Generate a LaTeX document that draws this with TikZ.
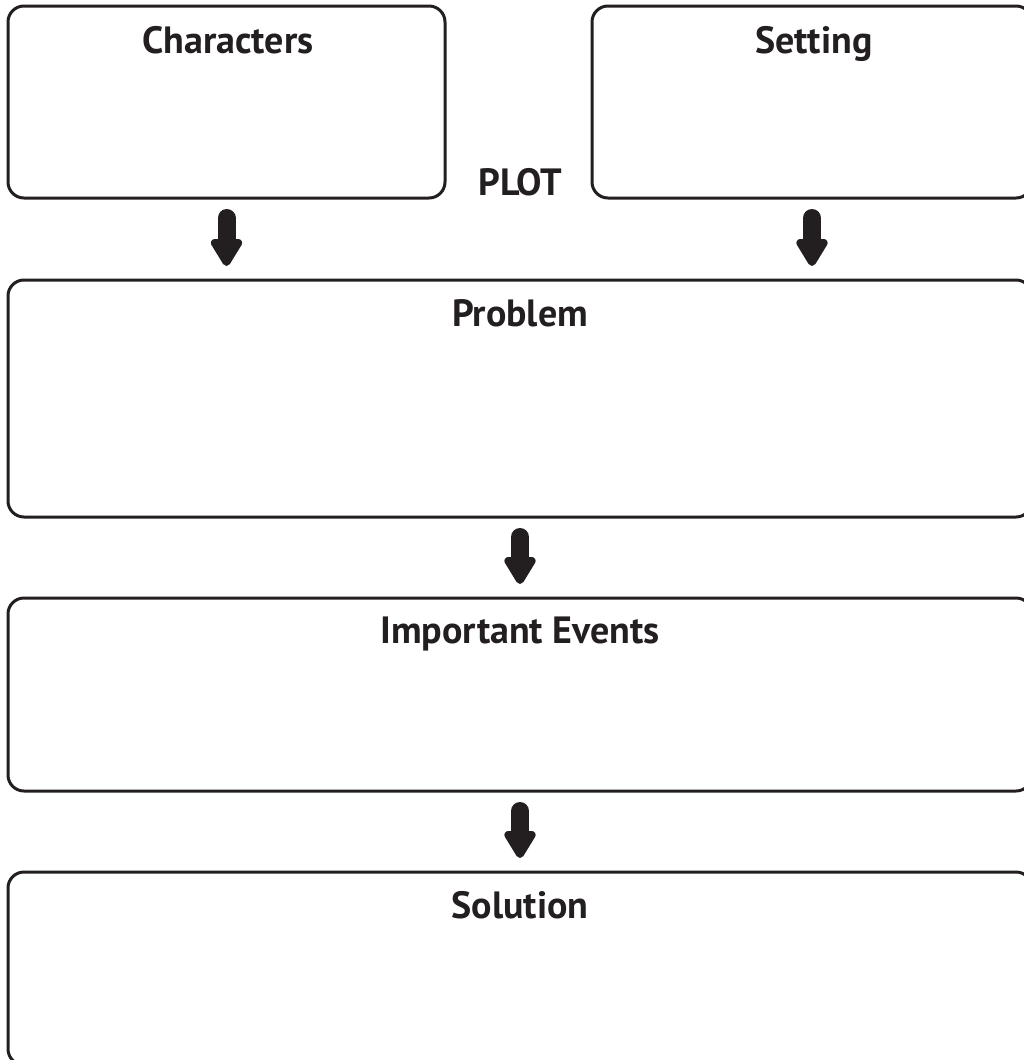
\documentclass[tikz,border=0pt]{standalone}
\usepackage{fontspec}
\setmainfont{PT Sans}
\usetikzlibrary{arrows.meta}
\definecolor{ink}{HTML}{231F20}
\tikzset{
  box/.style={draw=ink, line width=3pt, rounded corners=16pt, inner sep=0pt, outer sep=0pt},
  title/.style={anchor=base, inner sep=0pt, font=\fontsize{38}{44}\selectfont\bfseries, text=ink},
  blockarrow/.style={line width=18pt, line cap=round, draw=ink,
    -{Triangle[width=35pt,length=31pt,round]}, shorten <=20pt, shorten >=14pt}
}
\begin{document}
\begin{tikzpicture}[x=1pt,y=-1pt]
\useasboundingbox (0,0) rectangle (1024,1060);
\clip (0,0) rectangle (1024,1060);
% boxes
\node[box, minimum width=437pt, minimum height=192pt] (chars) at (226.5,102) {};
\node[box, minimum width=440pt, minimum height=192pt] (sett) at (812,102) {};
\node[box, minimum width=1024pt, minimum height=237pt] (prob) at (520,398.5) {};
\node[box, minimum width=1024pt, minimum height=193pt] (events) at (520,694.5) {};
\node[box, minimum width=1024pt, minimum height=193pt] (sol) at (520,968.5) {};
% titles
\node[title] (tchars) at (228,53) {Characters};
\node[title] (tsett) at (814,53) {Setting};
\node[title] (tplot) at (520,195) {PLOT};
\node[title] (tprob) at (520,326) {Problem};
\node[title] (tevents) at (520,643) {Important Events};
\node[title] (tsol) at (520,918) {Solution};
% arrows
\draw[blockarrow] (chars.south) -- (chars.south |- prob.north);
\draw[blockarrow] (sett.south) -- (sett.south |- prob.north);
\draw[blockarrow] (prob.south) -- (events.north);
\draw[blockarrow] (events.south) -- (sol.north);
\end{tikzpicture}
\end{document}
